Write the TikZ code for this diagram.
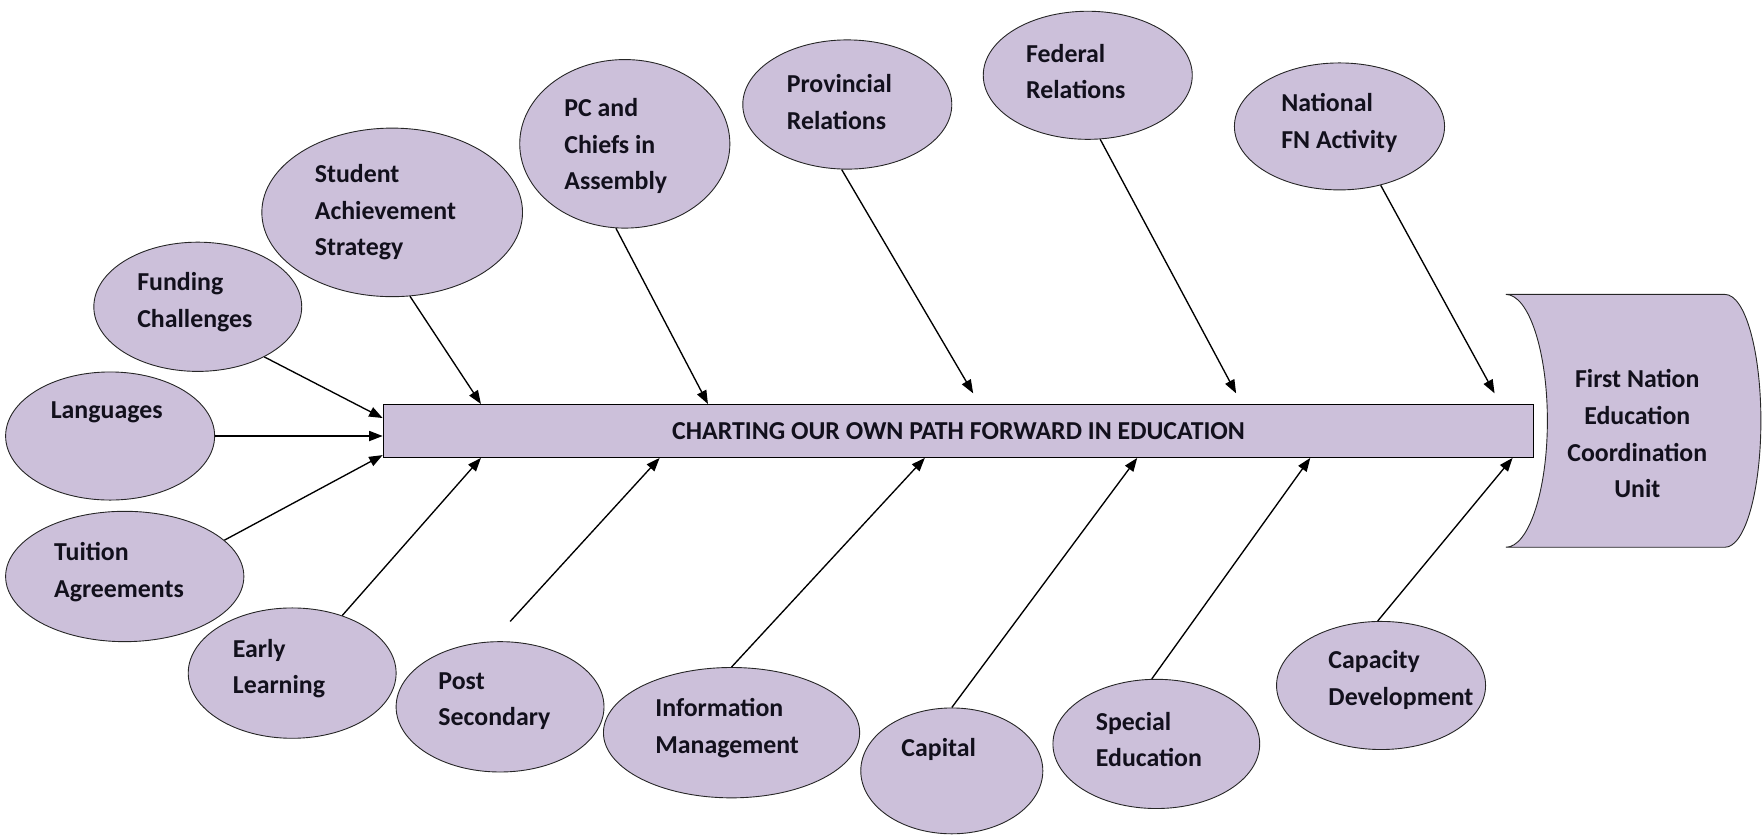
\documentclass[tikz,border=0pt]{standalone}
\usepackage{fontspec}
\setmainfont{Carlito}
\usetikzlibrary{shapes.geometric,arrows.meta}
\definecolor{lav}{RGB}{204,192,218}
\definecolor{txt}{RGB}{18,16,28}
\begin{document}
\begin{tikzpicture}[x=1pt,y=-1pt,
  bubble/.style={ellipse,draw=black!85,line width=0.8pt,fill=lav,inner sep=0pt},
  lbl/.style={anchor=west,align=left,inner sep=0pt,font=\fontsize{23}{32.5}\selectfont\bfseries,text=txt},
  arr/.style={line width=1.2pt,-{Triangle[length=12pt,width=9pt]}},
  ln/.style={line width=1.2pt}]
\useasboundingbox (0,0) rectangle (1568,744);
\clip (0,0) rectangle (1568,744);

% ellipses
\node[bubble,minimum width=186pt,minimum height=114pt] (lang) at (98,388) {};
\node[bubble,minimum width=185pt,minimum height=115pt] (fund) at (176,273) {};
\node[bubble,minimum width=232pt,minimum height=150pt] (stud) at (349,189) {};
\node[bubble,minimum width=187pt,minimum height=150pt] (pc) at (556,128) {};
\node[bubble,minimum width=186pt,minimum height=115pt] (prov) at (754,93) {};
\node[bubble,minimum width=186pt,minimum height=114pt] (fed) at (968,67) {};
\node[bubble,minimum width=187pt,minimum height=113pt] (nat) at (1192,112.5) {};
\node[bubble,minimum width=212pt,minimum height=116pt] (tui) at (111,513) {};
\node[bubble,minimum width=185pt,minimum height=116pt] (early) at (260,599) {};
\node[bubble,minimum width=185pt,minimum height=116pt] (post) at (445,629) {};
\node[bubble,minimum width=228pt,minimum height=116pt] (info) at (651,652) {};
\node[bubble,minimum width=162pt,minimum height=112pt] (cap) at (847,686) {};
\node[bubble,minimum width=184pt,minimum height=115pt] (spec) at (1029,662) {};
\node[bubble,minimum width=186pt,minimum height=114pt] (capd) at (1229,610) {};

% labels
\node[lbl] (langT) at (45,367) {Languages};
\node[lbl] (fundT) at (122,269) {Funding\\Challenges};
\node[lbl] (studT) at (280,189) {Student\\Achievement\\Strategy};
\node[lbl] (pcT) at (502,130) {PC and\\Chiefs in\\Assembly};
\node[lbl] (provT) at (700,91) {Provincial\\Relations};
\node[lbl] (fedT) at (913,63.5) {Federal\\Relations};
\node[lbl] (natT) at (1140,109.5) {National\\FN Activity};
\node[lbl] (tuiT) at (48,509) {Tuition\\Agreements};
\node[lbl] (earlyT) at (207,595) {Early\\Learning};
\node[lbl] (postT) at (390,624) {Post\\Secondary};
\node[lbl] (infoT) at (583,648) {Information\\Management};
\node[lbl] (capT) at (802,667) {Capital};
\node[lbl] (specT) at (975,658) {Special\\Education};
\node[lbl] (capdT) at (1182,605) {Capacity\\Development};

% main bar
\node[draw=black,line width=1pt,fill=lav,minimum width=1024pt,minimum height=47pt,inner sep=0pt,
  font=\fontsize{23}{28}\selectfont\bfseries,text=txt] (main) at (853,383.5) {CHARTING OUR OWN PATH FORWARD IN EDUCATION};

% head
\draw[fill=lav,line width=0.8pt,draw=black!85] (1340,262) -- (1535,262)
  .. controls (1553,262) and (1567,312.4) .. (1567,374.5)
  .. controls (1567,436.6) and (1553,487) .. (1535,487)
  -- (1340,487)
  .. controls (1360.4,487) and (1377,436.6) .. (1377,374.5)
  .. controls (1377,312.4) and (1360.4,262) .. (1340,262) -- cycle;
\node[align=center,inner sep=0pt,font=\fontsize{23}{32.5}\selectfont\bfseries,text=txt] (head) at (1457,386)
  {First Nation\\Education\\Coordination\\Unit};

% tip coordinates
\coordinate (tFund) at (340.5,372);
\coordinate (tTui) at (340.5,405);
\coordinate (tStud) at (428,359.5);
\coordinate (tPc) at (630,359.5);
\coordinate (tProv) at (866,350);
\coordinate (tFed) at (1100,350);
\coordinate (tNat) at (1330,350);
\coordinate (tEarly) at (428,407.5);
\coordinate (tPost) at (587,407.5);
\coordinate (tInfo) at (823,407.5);
\coordinate (tCap) at (1012,407.5);
\coordinate (tSpec) at (1166,407.5);
\coordinate (tCapd) at (1346,407.5);
\coordinate (sPost) at (454,553);

% arrows
\draw[arr] (fund.-37) -- (tFund);
\draw[arr] (lang.east) -- (lang.east -| main.west);
\draw[arr] (tui.20) -- (tTui);
\draw[arr] (stud.-78) -- (tStud);
\draw[arr] (pc.-96) -- (tPc);
\draw[arr] (prov.-95) -- (tProv);
\draw[arr] (fed.-79) -- (tFed);
\draw[arr] (nat.-55) -- (tNat);
\draw[arr] (early.49) -- (tEarly);
\draw[arr] (sPost) -- (tPost);
\draw[arr] (info.north) -- (tInfo);
\draw[arr] (cap.north) -- (tCap);
\draw[arr] (spec.94) -- (tSpec);
\draw[arr] (capd.93) -- (tCapd);
\end{tikzpicture}
\end{document}
